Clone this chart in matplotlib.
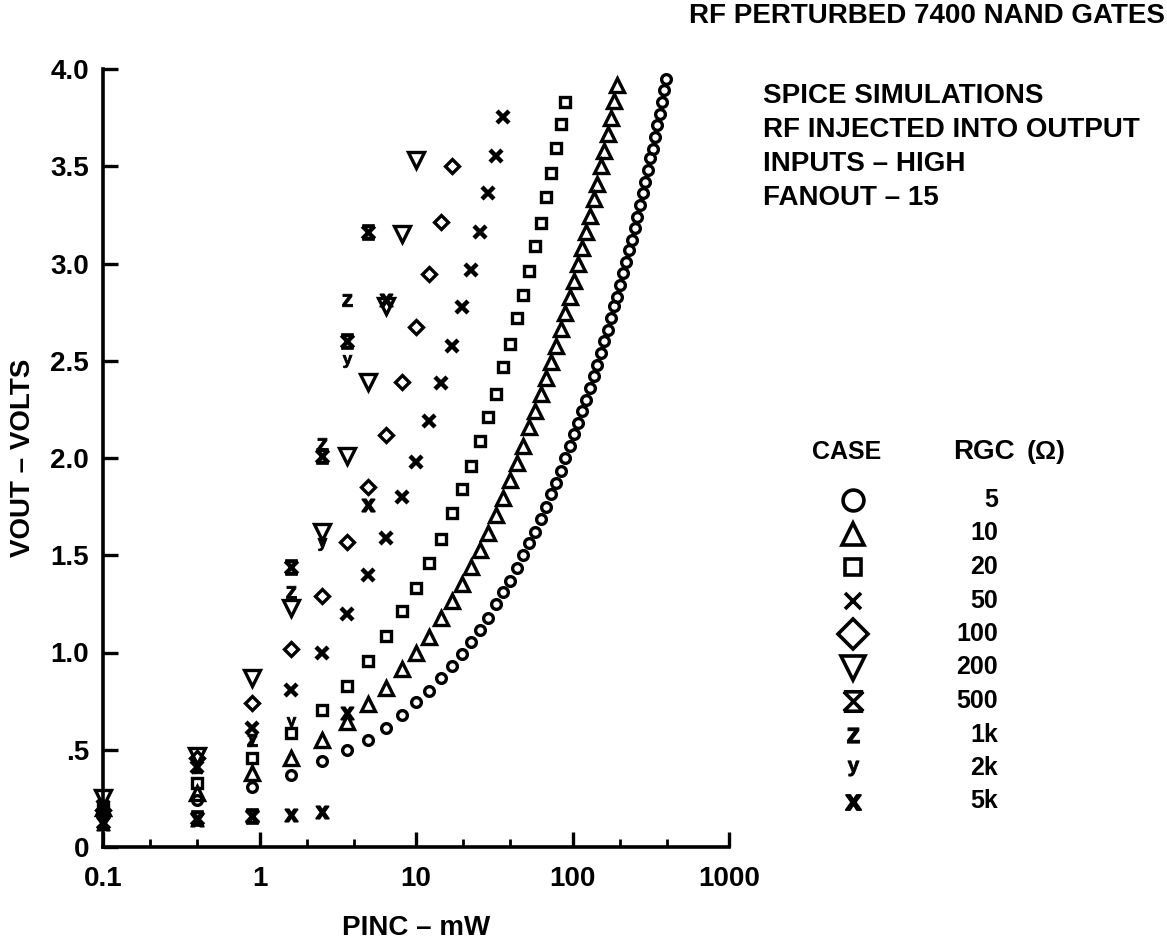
import matplotlib
matplotlib.use("Agg")
import matplotlib.pyplot as plt
from matplotlib.path import Path
from matplotlib.ticker import FixedLocator, NullFormatter

plt.rcParams['font.family'] = ['Liberation Sans', 'DejaVu Sans']
plt.rcParams['font.weight'] = 'bold'
plt.rcParams['mathtext.fontset'] = 'custom'
plt.rcParams['mathtext.bf'] = 'Liberation Sans:bold'

# Incident RF power steps (mW)
pinc_mw = [0.1, 0.4, 0.9, 1.6, 2.5, 3.6, 4.9, 6.4, 8.1, 10.0,
           12.1, 14.4, 16.9, 19.6, 22.5, 25.6, 28.9, 32.4, 36.1, 40.0,
           44.1, 48.4, 52.9, 57.6, 62.5, 67.6, 72.9, 78.4, 84.1, 90.0,
           96.1, 102.4, 108.9, 115.6, 122.5, 129.6, 136.9, 144.4, 152.1, 160.0,
           168.1, 176.4, 184.9, 193.6, 202.5, 211.6, 220.9, 230.4, 240.1, 250.0,
           260.1, 270.4, 280.9, 291.6, 302.5, 313.6, 324.9, 336.4, 348.1, 360.0,
           372.1, 384.4, 396.9]

# Output voltage (V) for each gate-collector resistance case
vout_5 = [0.17, 0.24, 0.31, 0.37, 0.44, 0.50, 0.55, 0.61, 0.68, 0.745,
          0.80, 0.867, 0.931, 0.992, 1.056, 1.116, 1.176, 1.249, 1.310, 1.368,
          1.433, 1.501, 1.561, 1.621, 1.685, 1.750, 1.815, 1.873, 1.935, 2.002,
          2.062, 2.123, 2.182, 2.24, 2.30, 2.36, 2.42, 2.48, 2.54, 2.60,
          2.66, 2.72, 2.78, 2.83, 2.89, 2.95, 3.01, 3.07, 3.12, 3.18,
          3.24, 3.30, 3.36, 3.42, 3.48, 3.54, 3.59, 3.65, 3.71, 3.77,
          3.83, 3.89, 3.95]
vout_10 = [0.20, 0.28, 0.38, 0.46, 0.55, 0.645, 0.735, 0.82, 0.915, 1.00,
           1.08, 1.175, 1.265, 1.352, 1.44, 1.527, 1.614, 1.707, 1.794, 1.887,
           1.974, 2.062, 2.159, 2.243, 2.327, 2.41, 2.494, 2.578, 2.662, 2.746,
           2.83, 2.91, 2.995, 3.08, 3.16, 3.245, 3.33, 3.41, 3.50, 3.58,
           3.665, 3.75, 3.835, 3.92]
vout_20 = [0.20, 0.33, 0.46, 0.585, 0.704, 0.83, 0.958, 1.086, 1.213, 1.33,
           1.46, 1.585, 1.715, 1.84, 1.96, 2.085, 2.21, 2.33, 2.47, 2.586,
           2.72, 2.84, 2.963, 3.09, 3.207, 3.343, 3.464, 3.592, 3.717, 3.832]
vout_50 = [0.21, 0.41, 0.61, 0.807, 0.996, 1.20, 1.40, 1.59, 1.80, 1.98,
           2.19, 2.387, 2.576, 2.778, 2.967, 3.164, 3.36, 3.554, 3.752]
vout_100 = [0.19, 0.46, 0.739, 1.02, 1.29, 1.57, 1.85, 2.12, 2.39, 2.675,
            2.946, 3.215, 3.50]
vout_200 = [0.25, 0.47, 0.87, 1.23, 1.62, 2.01, 2.39, 2.78, 3.15, 3.53]
vout_500 = [0.13, 0.15, 0.16, 1.44, 2.01, 2.60, 3.16]
vout_1k = [0.20, 0.41, 0.55, 1.31, 2.07, 2.81]
vout_2k = [0.20, 0.41, 0.55, 0.64, 1.56, 2.50]
vout_5k = [0.12, 0.14, 0.16, 0.165, 0.18, 0.69, 1.76, 2.81]

case_labels = ['5', '10', '20', '50', '100', '200', '500', '1k', '2k', '5k']

# X closed by flat bars at top and bottom
bar_x = Path([(-0.5, 0.5), (0.5, 0.5), (-0.5, -0.5), (0.5, -0.5),
              (-0.5, 0.5), (0.5, -0.5), (0.5, 0.5), (-0.5, -0.5)],
             [Path.MOVETO, Path.LINETO, Path.MOVETO, Path.LINETO,
              Path.MOVETO, Path.LINETO, Path.MOVETO, Path.LINETO])

styles = [
    dict(marker='o', ms=7, mew=2.4, mfc='none'),
    dict(marker='^', ms=10.5, mew=2.4, mfc='none'),
    dict(marker='s', ms=7, mew=2.4, mfc='none'),
    dict(marker='x', ms=8, mew=3.2, mfc='none'),
    dict(marker='D', ms=7.5, mew=2.4, mfc='none'),
    dict(marker='v', ms=11, mew=2.4, mfc='none'),
    dict(marker=bar_x, ms=9, mew=3.0, mfc='none'),
    dict(marker=r'$\mathbf{z}$', ms=9, mew=0.6, mfc='black'),
    dict(marker=r'$\mathbf{y}$', ms=9, mew=0.6, mfc='black'),
    dict(marker=r'$\mathbf{x}$', ms=9, mew=1.4, mfc='black'),
]
legend_ms = [15, 16, 12, 12, 15, 17, 14, 11, 11, 11]
series = [vout_5, vout_10, vout_20, vout_50, vout_100, vout_200,
          vout_500, vout_1k, vout_2k, vout_5k]

W, H = 1167, 941
fig = plt.figure(figsize=(W / 100, H / 100), dpi=100)
ax = fig.add_axes([103 / W, 1 - 847 / H, (729 - 103) / W, (847 - 69) / H])

for vals, st in zip(series, styles):
    ax.plot(pinc_mw[:len(vals)], vals, linestyle='none', color='black',
            mec='black', clip_on=False, **st)

ax.set_xscale('log')
ax.set_xlim(0.1, 1000)
ax.set_ylim(0, 4.0)
for s in ('top', 'right'):
    ax.spines[s].set_visible(False)
for s in ('left', 'bottom'):
    ax.spines[s].set_linewidth(2.6)

ax.xaxis.set_major_locator(FixedLocator([0.1, 1, 10, 100, 1000]))
ax.set_xticklabels(['0.1', '1', '10', '100', '1000'])
ax.xaxis.set_minor_locator(FixedLocator([0.2, 0.4, 2, 4, 20, 40, 200, 400]))
ax.xaxis.set_minor_formatter(NullFormatter())
ax.set_yticks([0, 0.5, 1.0, 1.5, 2.0, 2.5, 3.0, 3.5, 4.0])
ax.set_yticklabels(['0', '.5', '1.0', '1.5', '2.0', '2.5', '3.0', '3.5', '4.0'])
ax.tick_params(axis='both', which='major', direction='in', length=11, width=2.4,
               labelsize=20)
ax.tick_params(axis='x', which='major', pad=14)
ax.tick_params(axis='y', which='major', pad=10)
ax.tick_params(axis='x', which='minor', direction='in', length=6, width=2.0)
for lab in ax.get_xticklabels() + ax.get_yticklabels():
    lab.set_fontweight('bold')

ax.set_xlabel('PINC – mW', fontsize=20, fontweight='bold', labelpad=16)
ax.set_ylabel('VOUT – VOLTS', fontsize=20, fontweight='bold', labelpad=10)

fig.text(1165 / W, 1 - 3 / H, 'RF PERTURBED 7400 NAND GATES', ha='right', va='top',
         fontsize=20, fontweight='bold')
notes = ['SPICE SIMULATIONS', 'RF INJECTED INTO OUTPUT', 'INPUTS – HIGH', 'FANOUT – 15']
for i, t in enumerate(notes):
    fig.text(763 / W, 1 - (96 + 34 * i) / H, t, ha='left', va='center',
             fontsize=20, fontweight='bold')

# Legend table
fig.text(847 / W, 1 - 452 / H, 'CASE', ha='center', va='center', fontsize=18,
         fontweight='bold')
fig.text(953 / W, 1 - 452 / H, 'RGC', ha='left', va='center', fontsize=20,
         fontweight='bold')
fig.text(1027 / W, 1 - 452 / H, '(Ω)', ha='left', va='center', fontsize=19,
         fontweight='bold')
lax = fig.add_axes([0, 0, 1, 1], facecolor='none')
lax.set_xlim(0, W)
lax.set_ylim(H, 0)
lax.axis('off')
row_y = [500 + 33.5 * i for i in range(len(case_labels))]
for yy, lab, st, lms in zip(row_y, case_labels, styles, legend_ms):
    big = dict(st)
    big['ms'] = lms
    if st['mfc'] == 'none':
        big['mew'] = 2.6
    lax.plot([853], [yy], linestyle='none', mec='black', color='black', **big)
    lax.text(998, yy, lab, ha='right', va='center', fontsize=18, fontweight='bold')

fig.savefig('out.png', dpi=100)
